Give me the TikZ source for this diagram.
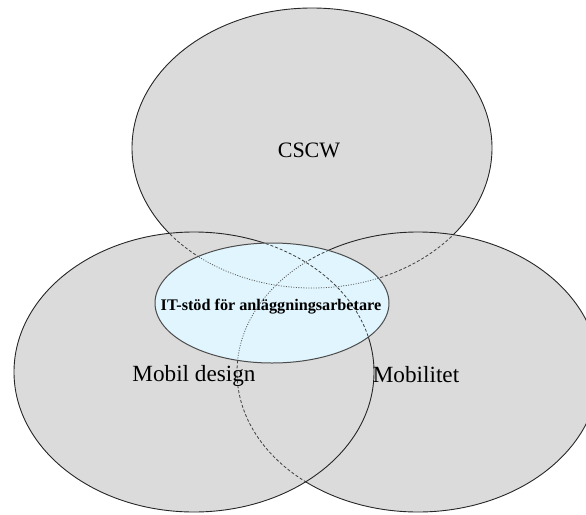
\documentclass[tikz,border=0pt]{standalone}
\usepackage{fontspec}
\setmainfont{Liberation Serif}

% the four rings, in pixels of the picture
\def\cscwring{(312,148) ellipse [x radius=180, y radius=140]}
\def\mobring{(418,372) ellipse [x radius=181, y radius=140]}
\def\designring{(194,372) ellipse [x radius=180, y radius=140]}
\def\itring{(272,303) ellipse [x radius=117, y radius=60]}
\def\allarea{(-20,-20) rectangle (620,540)}

\begin{document}
\begin{tikzpicture}[
  x=1pt, y=-1pt,
  ring/.style={fill=gray!28},
  rim/.style={draw=black!85, line width=0.9pt},
  behind/.style={draw=black!75, line width=0.8pt, dash pattern=on 3pt off 2pt},
  deep/.style={draw=black!65, line width=0.8pt, dash pattern=on 1pt off 1.5pt},
  label/.style={anchor=base, font=\fontsize{23.2}{28}\selectfont}
]
\useasboundingbox (0,0) rectangle (586,514);

% fills, back to front
\fill[ring] \cscwring;
\fill[ring] \mobring;
\fill[ring] \designring;
\fill[cyan!12] \itring;

% CSCW ring seen through the others
\begin{scope}
  \clip \itring;
  \path[deep] \cscwring;
\end{scope}
\begin{scope}[even odd rule]
  \clip \allarea \itring;
  \clip \designring;
  \path[behind] \cscwring;
\end{scope}
\begin{scope}[even odd rule]
  \clip \allarea \itring;
  \clip \mobring;
  \path[behind] \cscwring;
\end{scope}

% Mobilitet ring seen through the others
\begin{scope}
  \clip \itring;
  \clip \designring;
  \path[deep] \mobring;
\end{scope}
\begin{scope}[even odd rule]
  \clip \allarea \designring;
  \clip \itring;
  \path[behind] \mobring;
\end{scope}
\begin{scope}[even odd rule]
  \clip \allarea \itring;
  \clip \designring;
  \path[behind] \mobring;
\end{scope}

% Mobil design ring seen through the middle one
\begin{scope}
  \clip \itring;
  \path[behind] \designring;
\end{scope}

% visible rims
\begin{scope}[even odd rule]
  \clip \allarea \mobring;
  \clip \allarea \designring;
  \clip \allarea \itring;
  \path[rim] \cscwring;
\end{scope}
\begin{scope}[even odd rule]
  \clip \allarea \designring;
  \clip \allarea \itring;
  \path[rim] \mobring;
\end{scope}
\begin{scope}[even odd rule]
  \clip \allarea \itring;
  \path[rim] \designring;
\end{scope}
\path[draw=black!70, line width=1pt] \itring;

% labels
\node[label, font=\fontsize{22}{26}\selectfont] (cscw) at (309,157) {CSCW};
\node[label] (design) at (194,381) {Mobil design};
\node[label] (mobility) at (416,382) {Mobilitet};
\node[label, font=\bfseries\fontsize{16.2}{20}\selectfont] (itsupport) at (271,310) {IT-stöd för anläggningsarbetare};
\end{tikzpicture}
\end{document}
